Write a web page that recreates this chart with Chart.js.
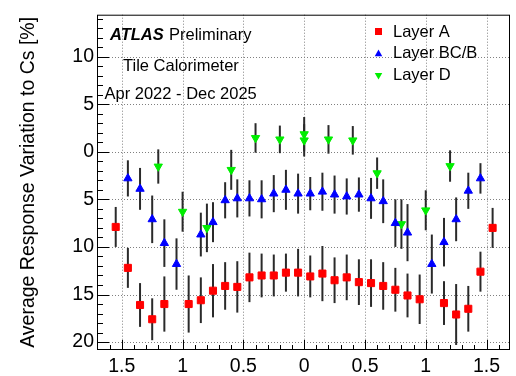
<!DOCTYPE html>
<html>
<head>
<meta charset="utf-8">
<script src="https://cdn.jsdelivr.net/npm/chart.js@4.4.1/dist/chart.umd.min.js"></script>
<style>
  html, body { margin: 0; padding: 0; background: #fff; }
  #wrap { width: 516px; height: 376px; position: relative; }
</style>
</head>
<body>
<div id="wrap"><canvas id="respChart"></canvas></div>
<script>
// Layer A (red squares)
const etaA = [-1.55, -1.45, -1.35, -1.25, -1.15, -0.95, -0.85, -0.75, -0.65, -0.55, -0.45, -0.35, -0.25, -0.15, -0.05,
              0.05, 0.15, 0.25, 0.35, 0.45, 0.55, 0.65, 0.75, 0.85, 0.95, 1.15, 1.25, 1.35, 1.45, 1.55];
const valA = [7.9, 12.2, 16.1, 17.6, 16.0, 16.0, 15.6, 14.6, 14.1, 14.2, 13.2, 13.0, 13.0, 12.7, 12.7,
              13.1, 12.8, 13.5, 13.2, 13.7, 13.8, 14.1, 14.5, 15.1, 15.5, 15.9, 17.1, 16.5, 12.6, 8.0];
const errA = [2.1, 2.1, 2.3, 2.2, 2.9, 3.0, 2.4, 2.8, 2.5, 2.7, 2.6, 2.3, 2.2, 2.0, 2.5,
              2.2, 2.9, 2.4, 2.4, 2.4, 2.5, 2.5, 2.3, 2.3, 2.6, 2.3, 3.2, 2.4, 2.1, 2.1];

// Layer BC/B (blue triangles)
const etaBC = [-1.45, -1.35, -1.25, -1.15, -1.05, -0.85, -0.75, -0.65, -0.55, -0.45, -0.35, -0.25, -0.15, -0.05,
               0.05, 0.15, 0.25, 0.35, 0.45, 0.55, 0.65, 0.75, 0.85, 1.05, 1.15, 1.25, 1.35, 1.45];
const valBC = [2.8, 3.9, 7.1, 9.6, 11.8, 8.7, 7.4, 5.1, 4.9, 4.9, 5.0, 4.4, 4.0, 4.4,
               4.4, 4.2, 4.5, 4.7, 4.5, 4.9, 5.2, 7.5, 8.5, 11.8, 9.5, 7.1, 4.1, 2.8];
const errBC = [1.9, 2.2, 2.5, 2.5, 2.7, 2.3, 2.1, 1.9, 2.0, 1.9, 2.0, 1.95, 2.1, 2.1,
               1.75, 2.0, 2.0, 1.9, 1.8, 2.15, 2.3, 2.5, 3.0, 3.1, 2.55, 2.3, 1.9, 1.6];

// Layer D (green down triangles)
const etaD = [-1.2, -1.0, -0.8, -0.6, -0.4, -0.2, 0.0, 0.0, 0.2, 0.4, 0.6, 0.8, 1.0, 1.2];
const valD = [1.55, 6.3, 8.0, 1.9, -1.45, -1.3, -1.85, -1.2, -1.3, -1.2, 2.25, 7.6, 6.15, 1.5];
const errD = [1.8, 2.1, 2.55, 2.1, 1.55, 1.45, 1.8, 1.7, 1.5, 1.5, 1.65, 2.6, 2.1, 1.65];

// axis ticks (labels are shown without sign, like the original)
const xTicks = [-1.5, -1, -0.5, 0, 0.5, 1, 1.5];
const xTickLabels = ["1.5", "1", "0.5", "0", "0.5", "1", "1.5"];
const yTicks = [-10, -5, 0, 5, 10, 15, 20];
const yTickLabels = ["10", "5", "0", "5", "10", "15", "20"];

const FONT = "'Liberation Sans', Arial, Helvetica, sans-serif";
const RED = "#ff0000", BLUE = "#0000ff", GREEN = "#00ee00";

const series = [
  { label: "Layer A", eta: etaA, val: valA, err: errA, color: RED, style: "rect", rot: 0, r: 5 },
  { label: "Layer BC/B", eta: etaBC, val: valBC, err: errBC, color: BLUE, style: "triangle", rot: 0, r: 4.8 },
  { label: "Layer D", eta: etaD, val: valD, err: errD, color: GREEN, style: "triangle", rot: 180, r: 4.8 }
];

const toPoints = (xs, ys) => xs.map((x, i) => ({ x: x, y: ys[i] }));

// dotted grid + error bars under the markers
const gridAndErrors = {
  id: "gridAndErrors",
  beforeDatasetsDraw(chart) {
    const { ctx, chartArea: a, scales: { x, y } } = chart;
    ctx.save();
    ctx.strokeStyle = "#808080";
    ctx.lineWidth = 1;
    ctx.setLineDash([1, 2]);
    xTicks.forEach(v => {
      const px = Math.round(x.getPixelForValue(v)) + 0.5;
      ctx.beginPath(); ctx.moveTo(px, a.top); ctx.lineTo(px, a.bottom); ctx.stroke();
    });
    yTicks.forEach(v => {
      const py = Math.round(y.getPixelForValue(v)) + 0.5;
      ctx.beginPath(); ctx.moveTo(a.left, py); ctx.lineTo(a.right, py); ctx.stroke();
    });
    ctx.setLineDash([]);

    ctx.strokeStyle = "#2a2a2a";
    ctx.lineWidth = 2;
    series.forEach(s => {
      s.eta.forEach((e, i) => {
        const px = x.getPixelForValue(e);
        ctx.beginPath();
        ctx.moveTo(px, y.getPixelForValue(s.val[i] - s.err[i]));
        ctx.lineTo(px, y.getPixelForValue(s.val[i] + s.err[i]));
        ctx.stroke();
      });
    });
    ctx.restore();
  }
};

function marker(ctx, style, rot, cx, cy, r) {
  ctx.beginPath();
  if (style === "rect") {
    ctx.rect(cx - r, cy - r, 2 * r, 2 * r);
  } else {
    const d = rot ? -1 : 1;
    ctx.moveTo(cx, cy - d * r);
    ctx.lineTo(cx + r * 0.9, cy + d * r * 0.6);
    ctx.lineTo(cx - r * 0.9, cy + d * r * 0.6);
    ctx.closePath();
  }
  ctx.fill();
}

// ROOT style frame, inward ticks, labels and legend
const frameAndText = {
  id: "frameAndText",
  afterDraw(chart) {
    const { ctx, chartArea: a, scales: { x, y } } = chart;
    ctx.save();
    ctx.strokeStyle = "#000";
    ctx.lineWidth = 1;
    ctx.strokeRect(a.left + 0.5, a.top + 0.5, a.right - a.left - 1, a.bottom - a.top - 1);

    ctx.beginPath();
    for (let v = -14; v <= 20; v++) {
      const py = Math.round(y.getPixelForValue(v)) + 0.5;
      const len = v % 5 === 0 ? 12 : 6;
      ctx.moveTo(a.left, py); ctx.lineTo(a.left + len, py);
    }
    for (let k = -17; k <= 16; k++) {
      const px = Math.round(x.getPixelForValue(k / 10)) + 0.5;
      const len = k % 5 === 0 ? 10 : 5;
      ctx.moveTo(px, a.bottom); ctx.lineTo(px, a.bottom - len);
    }
    ctx.stroke();

    ctx.fillStyle = "#000";
    ctx.textBaseline = "alphabetic";
    ctx.textAlign = "left";
    ctx.font = "italic bold 16.5px " + FONT;
    ctx.fillText("ATLAS", 110, 40);
    ctx.font = "16.5px " + FONT;
    ctx.fillText("Preliminary", 169, 40);
    ctx.fillText("Tile Calorimeter", 123, 70.5);
    ctx.fillText("Apr 2022 - Dec 2025", 104.5, 98.5);

    const rows = [36.5, 58.2, 79.9];
    series.forEach((s, i) => {
      ctx.fillStyle = s.color;
      if (s.style === "rect") marker(ctx, "rect", 0, 378.5, rows[i] - 5, 3.5);
      else marker(ctx, s.style, s.rot, 378.5, rows[i] - 4.5, 4.2);
      ctx.fillStyle = "#000";
      ctx.fillText(s.label, 393, rows[i]);
    });
    ctx.restore();
  }
};

new Chart(document.getElementById("respChart"), {
  type: "scatter",
  data: {
    datasets: series.map(s => ({
      label: s.label,
      data: toPoints(s.eta, s.val),
      pointStyle: s.style,
      rotation: s.rot,
      pointRadius: s.r,
      backgroundColor: s.color,
      borderColor: s.color,
      pointBorderWidth: 1,
      showLine: false
    }))
  },
  options: {
    responsive: true,
    maintainAspectRatio: false,
    devicePixelRatio: 1,
    animation: false,
    events: [],
    layout: { padding: { left: 0, right: 3, top: 10, bottom: 0 } },
    plugins: { legend: { display: false }, tooltip: { enabled: false } },
    scales: {
      x: {
        type: "linear",
        min: -1.704,
        max: 1.693,
        grid: { display: false, drawTicks: false },
        border: { display: false },
        afterBuildTicks: s => { s.ticks = xTicks.map(v => ({ value: v })); },
        afterFit: s => { s.height = 26; },
        ticks: {
          padding: 5,
          color: "#000",
          font: { family: FONT, size: 19.5 },
          maxRotation: 0,
          autoSkip: false,
          callback: (v, i) => xTickLabels[i]
        }
      },
      y: {
        type: "linear",
        reverse: true,
        min: -14.4,
        max: 20.83,
        grid: { display: false, drawTicks: false },
        border: { display: false },
        afterBuildTicks: s => { s.ticks = yTicks.map(v => ({ value: v })); },
        afterFit: s => { s.width = 97; },
        ticks: {
          padding: 3,
          color: "#000",
          font: { family: FONT, size: 19.5 },
          autoSkip: false,
          callback: (v, i) => yTickLabels[i]
        },
        title: {
          display: true,
          text: "Average Response Variation to Cs [%]",
          color: "#000",
          font: { family: FONT, size: 19.5 },
          padding: { top: 17, bottom: 0 }
        }
      }
    }
  },
  plugins: [gridAndErrors, frameAndText]
});
</script>
</body>
</html>
